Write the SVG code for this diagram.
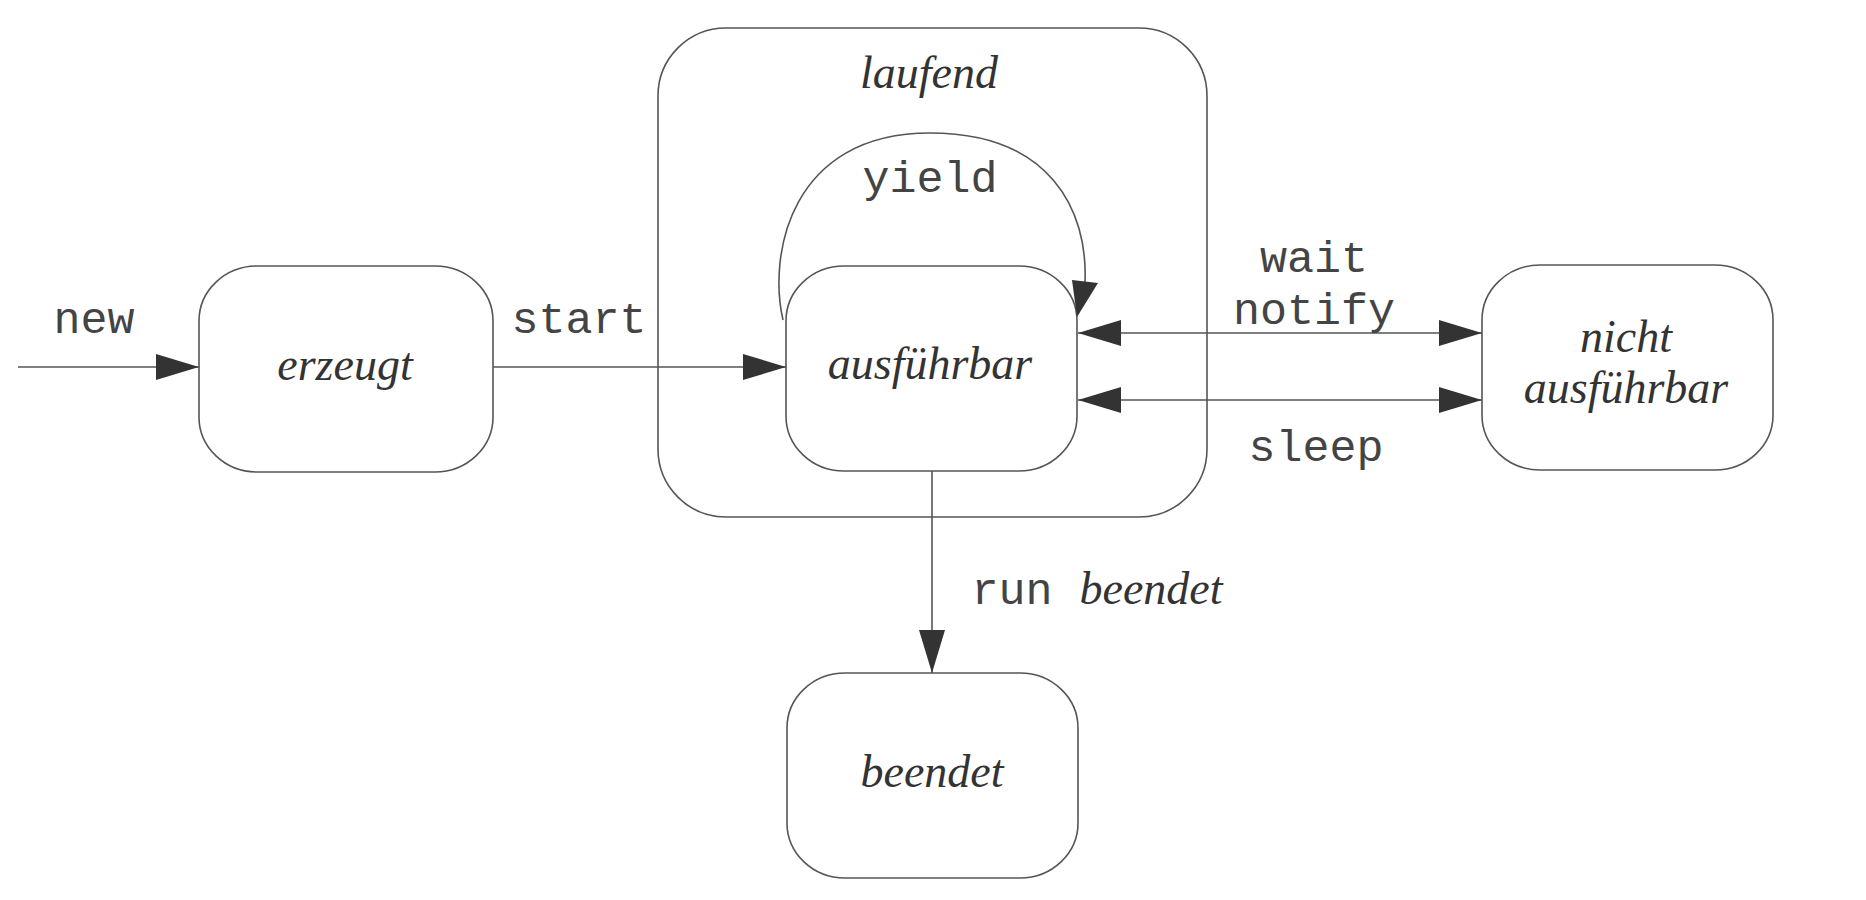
<svg xmlns="http://www.w3.org/2000/svg" width="1866" height="900" viewBox="0 0 1866 900">
  <style>
    .box { fill: none; stroke: #555; stroke-width: 1.6; }
    .line { fill: none; stroke: #555; stroke-width: 1.6; }
    .mono { font-family: "Liberation Mono", "Courier New", monospace; font-size: 45px; fill: #444; text-anchor: middle; }
    .ital { font-family: "Liberation Serif", "Times New Roman", serif; font-style: italic; font-size: 46px; fill: #333; text-anchor: middle; }
    .head { fill: #333; }
  </style>
  <defs>
    <marker id="arr" viewBox="0 0 43 26" refX="43" refY="13" markerWidth="43" markerHeight="26" markerUnits="userSpaceOnUse" orient="auto-start-reverse">
      <path d="M0,0 L43,13 L0,26 z" class="head"/>
    </marker>
  </defs>
  <rect width="1866" height="900" fill="#ffffff"/>

  <g id="laufend">
    <rect class="box" x="658" y="28" width="549" height="489" rx="68" ry="68"/>
    <text class="ital" x="929" y="88">laufend</text>
  </g>

  <g id="erzeugt">
    <rect class="box" x="199" y="266" width="294" height="206" rx="58" ry="55"/>
    <text class="ital" x="345" y="380">erzeugt</text>
  </g>

  <g id="ausfuehrbar">
    <rect class="box" x="786" y="266" width="291" height="205" rx="58" ry="55"/>
    <text class="ital" x="930" y="379">ausführbar</text>
  </g>

  <g id="nicht-ausfuehrbar">
    <rect class="box" x="1482" y="265" width="291" height="205" rx="58" ry="55"/>
    <text class="ital" x="1626" y="352">nicht</text>
    <text class="ital" x="1626" y="403">ausführbar</text>
  </g>

  <g id="beendet">
    <rect class="box" x="787" y="673" width="291" height="205" rx="58" ry="55"/>
    <text class="ital" x="932" y="787">beendet</text>
  </g>

  <g id="connectors">
    <path class="line" d="M18,367 L199,367" marker-end="url(#arr)"/>
    <path class="line" d="M493,367 L786,367" marker-end="url(#arr)"/>
    <path class="line" d="M783,320 C768,255 790,133 930,133 C1050,133 1088,210 1085,282"/>
    <polygon class="head" points="1072,280 1098,283 1077,317"/>
    <path class="line" d="M1078,333 L1482,333" marker-start="url(#arr)" marker-end="url(#arr)"/>
    <path class="line" d="M1078,400 L1482,400" marker-start="url(#arr)" marker-end="url(#arr)"/>
    <path class="line" d="M932,471 L932,673" marker-end="url(#arr)"/>
  </g>

  <g id="labels">
    <text class="mono" x="94" y="333">new</text>
    <text class="mono" x="579" y="333">start</text>
    <text class="mono" x="930" y="192">yield</text>
    <text class="mono" x="1314" y="272">wait</text>
    <text class="mono" x="1314" y="324">notify</text>
    <text class="mono" x="1316" y="461">sleep</text>
    <text class="mono" x="1012" y="604">run</text>
    <text class="ital" x="1151" y="604">beendet</text>
  </g>
</svg>
